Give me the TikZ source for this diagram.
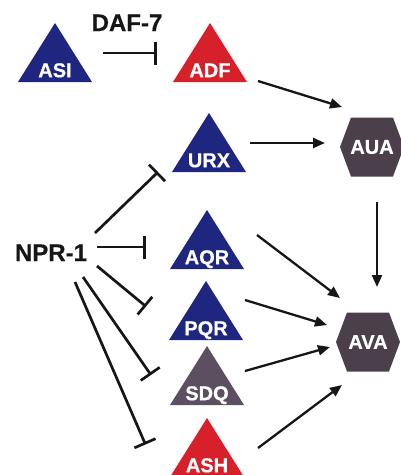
\documentclass[tikz,border=0pt]{standalone}
\usepackage{fontspec}
\setmainfont{Liberation Sans}
\usetikzlibrary{calc,arrows.meta}
\definecolor{navy}{RGB}{30,38,128}
\definecolor{cred}{RGB}{214,32,42}
\definecolor{sdqcol}{RGB}{92,80,96}
\definecolor{hexcol}{RGB}{76,63,76}
\definecolor{ink}{RGB}{22,22,22}
\tikzset{
  tri/.style={minimum width=74pt, minimum height=59pt, inner sep=0pt,
    path picture={\fill[#1] (path picture bounding box.north) -- (path picture bounding box.south east) -- (path picture bounding box.south west) -- cycle;}},
  hexa/.style={minimum width=64pt, minimum height=59pt, inner sep=0pt,
    text=white, font=\bfseries\fontsize{20}{22}\selectfont\addfontfeatures{FakeBold=0.6},
    path picture={\fill[hexcol] ([xshift=11pt]path picture bounding box.north west) -- ([xshift=-11pt]path picture bounding box.north east) -- (path picture bounding box.east) -- ([xshift=-11pt]path picture bounding box.south east) -- ([xshift=11pt]path picture bounding box.south west) -- (path picture bounding box.west) -- cycle;}},
  tlab/.style={text=white, font=\bfseries\fontsize{20}{22}\selectfont\addfontfeatures{FakeBold=0.6}, inner sep=0pt, anchor=base},
  blab/.style={text=ink, font=\bfseries\fontsize{24}{26}\selectfont\addfontfeatures{FakeBold=0.5}, inner sep=0pt, anchor=base},
  arr/.style={draw=ink, line width=2.3pt, -{Triangle[length=12pt,width=10pt]}},
  inh/.style={draw=ink, line width=2.7pt, -{Bar[width=23pt,line width=2.7pt]}}
}
\begin{document}
\begin{tikzpicture}[x=1pt,y=-1pt]
\useasboundingbox (0,0) rectangle (401,475);
% triangles
\node[tri=navy] (asi) at (55,52.5) {};
\node[tri=cred] (adf) at (210,52.5) {};
\node[tri=navy] (urx) at (209,142.5) {};
\node[tri=navy] (aqr) at (207,239.5) {};
\node[tri=navy] (pqr) at (206,310.5) {};
\node[tri=sdqcol] (sdq) at (207,375.5) {};
\node[tri=cred] (ash) at (207,447.5) {};
% triangle labels
\node[tlab] (asit) at ($(asi.south)+(0,-5)$) {ASI};
\node[tlab] (adft) at ($(adf.south)+(0,-5)$) {ADF};
\node[tlab] (urxt) at ($(urx.south)+(0,-5)$) {URX};
\node[tlab] (aqrt) at ($(aqr.south)+(0,-5)$) {AQR};
\node[tlab] (pqrt) at ($(pqr.south)+(0,-5)$) {PQR};
\node[tlab] (sdqt) at ($(sdq.south)+(0,-5)$) {SDQ};
\node[tlab] (asht) at ($(ash.south)+(0,-5)$) {ASH};
% hexagons
\node[hexa] (aua) at (372,147) {AUA};
\node[hexa] (ava) at (368,342) {AVA};
% black labels
\node[blab] (daf) at (127,31) {DAF-7};
\node[blab] (npr) at (51,261) {NPR-1};
% activating arrows
\draw[arr] ($(adf)+(48,28.5)$) -- ($(aua)+(-30,-40)$);
\draw[arr] ($(urx)+(41,0.5)$) -- ($(aua)+(-47,-4)$);
\draw[arr] ($(aua)+(5,55)$) -- ($(ava)+(9,-55)$);
\draw[arr] ($(aqr)+(50,-4.5)$) -- ($(ava)+(-28,-44)$);
\draw[arr] ($(pqr)+(39,-10.5)$) -- ($(ava)+(-41,-17)$);
\draw[arr] ($(sdq)+(38,-4.5)$) -- ($(ava)+(-38,5)$);
\draw[arr] ($(ash)+(51,0.5)$) -- ($(ava)+(-26,43)$);
% inhibitions
\draw[inh] ($(asi)+(48,0.5)$) -- ($(adf)+(-53,0.5)$);
\draw[inh] ($(npr.base)+(44,-28)$) -- ($(urx)+(-51,29.5)$);
\draw[inh] ($(npr.base)+(46,-14)$) -- ($(aqr)+(-61,7.5)$);
\draw[inh] ($(npr.base)+(46,5)$) -- ($(pqr)+(-60,-4)$);
\draw[inh] ($(npr.base)+(32,16)$) -- ($(sdq)+(-56,-0.5)$);
\draw[inh] ($(npr.base)+(24,21)$) -- ($(ash)+(-61.5,-3)$);
\end{tikzpicture}
\end{document}
